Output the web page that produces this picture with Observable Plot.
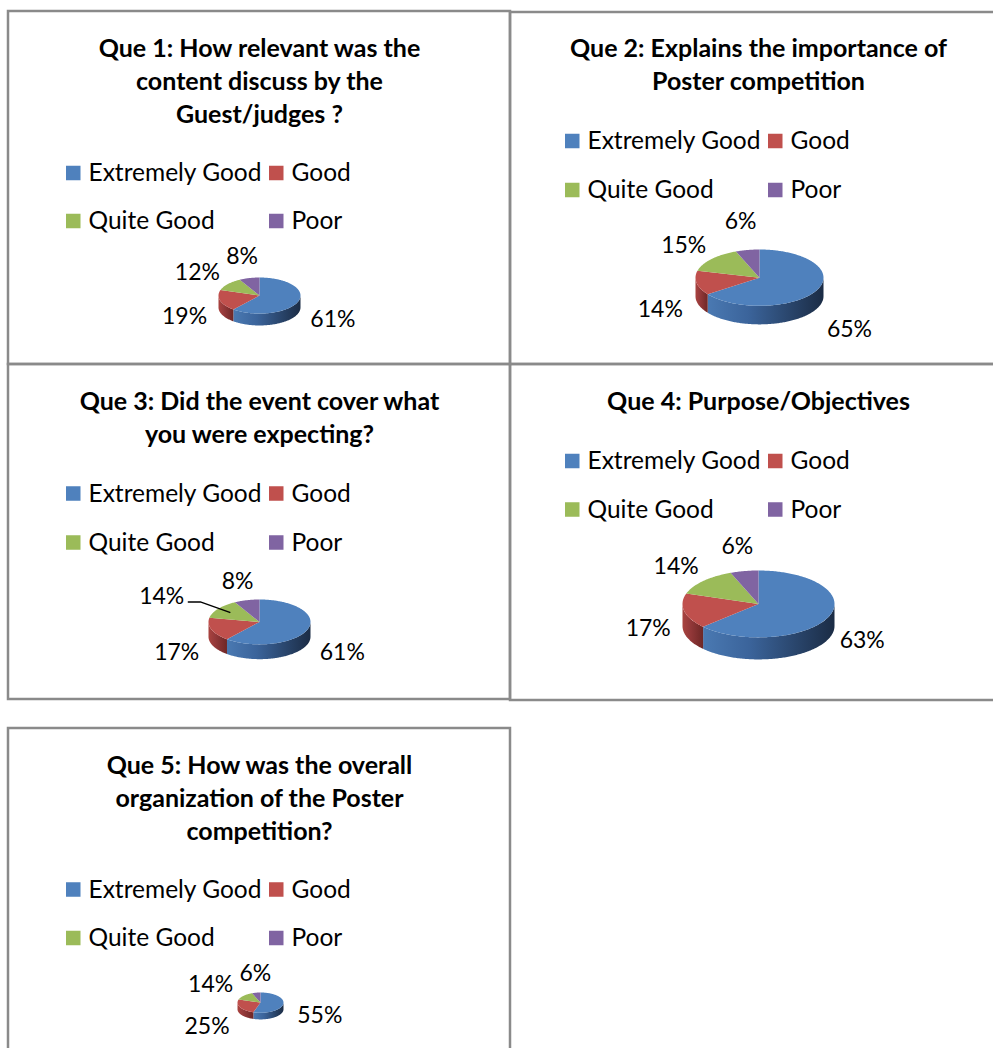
<!DOCTYPE html>
<html><head><meta charset="utf-8">
<script src="https://cdn.jsdelivr.net/npm/d3@7"></script>
<script src="https://cdn.jsdelivr.net/npm/@observablehq/plot@0.6"></script>
<style>html,body{margin:0;padding:0;background:#fff;overflow:hidden}</style>
</head><body><div id="chart"></div>
<script>
// ---------- data ----------
const categories = ["Extremely Good", "Good", "Quite Good", "Poor"];
const q1Title = ["Que 1: How relevant was the", "content discuss by the", "Guest/judges ?"];
const q2Title = ["Que 2: Explains the importance of", "Poster competition"];
const q3Title = ["Que 3: Did the event cover what", "you were expecting?"];
const q4Title = ["Que 4: Purpose/Objectives"];
const q5Title = ["Que 5: How was the overall", "organization of the Poster", "competition?"];
const q1Values = [61, 19, 12, 8];
const q2Values = [65, 14, 15, 6];
const q3Values = [61, 17, 14, 8];
const q4Values = [63, 17, 14, 6];
const q5Values = [55, 25, 14, 6];

// ---------- styles ----------
const topColors = ["#4F81BD", "#C0504D", "#9BBB59", "#8064A2"];
const sideStops = [
  ["#4a79b2", "#3b649b", "#1b2c45"],
  ["#a9433f", "#95393a", "#6e2726"],
  ["#86a64a", "#7a973f", "#55692c"],
  ["#6f5690", "#634c82", "#45355c"]
];
const font = "Lato, 'Open Sans', sans-serif";
const titleSize = 25, legendSize = 24.5, labelSize = 23;

// ---------- layout ----------
const panels = [
  {title: q1Title, values: q1Values, box: [8, 11, 510, 364], cx: 259, titleY: 48, legendY: [173, 221], pie: {cx: 259, top: 277, rx: 41}, lab: {ey: 30, c: 7.5}},
  {title: q2Title, values: q2Values, box: [510, 12, 997, 364], cx: 758, titleY: 48.5, legendY: [141, 190], pie: {cx: 759, top: 249, rx: 64}, lab: {ey: 47, c: 17.5}},
  {title: q3Title, values: q3Values, box: [8, 364, 510, 699], cx: 259, titleY: 401.5, legendY: [493.5, 542.5], pie: {cx: 259, top: 599, rx: 51}, lab: {ey: 32, c: 12}, leader: 2},
  {title: q4Title, values: q4Values, box: [510, 364, 997, 700], cx: 758, titleY: 401.5, legendY: [461, 509.5], pie: {cx: 758, top: 570, rx: 76}, lab: {ey: 35, c: 10}},
  {title: q5Title, values: q5Values, box: [8, 728, 510, 1055], cx: 259, titleY: 765, legendY: [889.5, 938], pie: {cx: 260, top: 992, rx: 23}, lab: {ey: 27, c: 7}}
];
const W = 993, H = 1048;
const lineGap = 33;
const tilt = 0.44, depthRatio = 0.29;
const labelPad = 37, labelGap = 12, labelH = 20;

const deg = Math.PI / 180;
function arcPts(cx, cy, rx, ry, a0, a1, dy = 0) {
  const n = Math.max(2, Math.ceil((a1 - a0) / deg));
  const pts = [];
  for (let i = 0; i <= n; i++) {
    const t = a0 + (a1 - a0) * i / n;
    pts.push({x: cx + rx * Math.sin(t), y: cy - ry * Math.cos(t) + dy});
  }
  return pts;
}
const textW = t => t.length * 0.5 * labelSize + 4;

const marks = [];
panels.forEach((p, pi) => {
  // border
  marks.push(Plot.rect([p.box], {x1: d => d[0], y1: d => d[1], x2: d => d[2], y2: d => d[3], fill: "none", stroke: "#8a8a8a", strokeWidth: 2.5}));
  // title
  marks.push(Plot.text(p.title.map((t, i) => ({t, y: p.titleY + i * lineGap})), {
    x: () => p.cx, y: "y", text: "t", fontFamily: font, fontWeight: 700, fontSize: titleSize, fill: "black", textAnchor: "middle"
  }));
  // legend
  const leg = categories.map((c, i) => ({
    c, i,
    sx: p.cx + (i % 2 === 0 ? -193 : 10),
    tx: p.cx + (i % 2 === 0 ? -171 : 32),
    y: p.legendY[Math.floor(i / 2)]
  }));
  marks.push(Plot.rect(leg, {x1: d => d.sx, x2: d => d.sx + 14.5, y1: d => d.y - 7.25, y2: d => d.y + 7.25, fill: d => topColors[d.i]}));
  marks.push(Plot.text(leg, {x: "tx", y: "y", text: "c", fontFamily: font, fontSize: legendSize, fill: "black", textAnchor: "start"}));

  // pie
  const total = d3.sum(p.values);
  const rx = p.pie.rx, ry = rx * tilt, depth = rx * depthRatio;
  const cx = p.pie.cx, cy = p.pie.top + ry;
  let acc = 0;
  const slices = p.values.map((v, i) => {
    const a0 = acc / total * 2 * Math.PI;
    acc += v;
    const a1 = acc / total * 2 * Math.PI;
    return {v, i, a0, a1, mid: (a0 + a1) / 2};
  });
  // side walls (front half only)
  slices.forEach(s => {
    const b0 = Math.max(s.a0, Math.PI / 2), b1 = Math.min(s.a1, 3 * Math.PI / 2);
    if (b1 <= b0) return;
    const topArc = arcPts(cx, cy, rx, ry, b0, b1);
    const botArc = arcPts(cx, cy, rx, ry, b0, b1, depth).reverse();
    marks.push(Plot.line(topArc.concat(botArc), {x: "x", y: "y", fill: `url(#side${s.i})`, stroke: "none"}));
  });
  // top faces
  slices.forEach(s => {
    const pts = [{x: cx, y: cy}].concat(arcPts(cx, cy, rx, ry, s.a0, s.a1));
    marks.push(Plot.line(pts, {x: "x", y: "y", fill: topColors[s.i], stroke: "none"}));
  });
  // labels: outside the ellipse at the mid angle
  const lrx = rx + labelPad, lry = ry + p.lab.ey;
  const labs = slices.map(s => ({
    t: `${s.v}%`, i: s.i, mid: s.mid,
    x: cx + lrx * Math.sin(s.mid),
    y: cy - lry * Math.cos(s.mid) + p.lab.c
  }));
  // simple collision avoidance: push apart horizontally when rows overlap
  for (let a = 0; a < labs.length; a++) for (let b = a + 1; b < labs.length; b++) {
    const A = labs[a], B = labs[b];
    if (Math.abs(A.y - B.y) >= labelH) continue;
    const [L, R] = A.x < B.x ? [A, B] : [B, A];
    const gap = (R.x - textW(R.t) / 2) - (L.x + textW(L.t) / 2);
    if (gap < labelGap) { const push = (labelGap - gap) / 2; L.x -= push; R.x += push; }
  }
  const normal = labs.filter(d => d.i !== p.leader);
  marks.push(Plot.text(normal, {x: "x", y: "y", text: "t", fontFamily: font, fontSize: labelSize, fill: "black", textAnchor: "middle"}));
  if (p.leader !== undefined) {
    const d = labs.find(l => l.i === p.leader);
    const end = {x: cx + rx * 0.72 * Math.sin(d.mid), y: cy - ry * 0.72 * Math.cos(d.mid)};
    marks.push(Plot.line([{x: d.x, y: d.y}, {x: d.x + 12, y: d.y}, end], {x: "x", y: "y", stroke: "black", strokeWidth: 1.4}));
    marks.push(Plot.text([d], {x: d => d.x - 4, y: d => d.y - 5, text: "t", fontFamily: font, fontSize: labelSize, fill: "black", textAnchor: "end"}));
  }
});

const chart = Plot.plot({
  width: W, height: H,
  margin: 0,
  x: {domain: [0, W], axis: null},
  y: {domain: [0, H], reverse: true, axis: null},
  style: {background: "white", overflow: "hidden"},
  marks
});

// gradients for side walls
const defs = d3.select(chart).insert("defs", ":first-child");
sideStops.forEach((st, i) => {
  const g = defs.append("linearGradient").attr("id", `side${i}`).attr("x1", 0).attr("x2", 1).attr("y1", 0).attr("y2", 0);
  g.append("stop").attr("offset", "0%").attr("stop-color", st[0]);
  g.append("stop").attr("offset", "35%").attr("stop-color", st[1]);
  g.append("stop").attr("offset", "100%").attr("stop-color", st[2]);
});
document.getElementById("chart").appendChild(chart);
</script>
</body></html>
